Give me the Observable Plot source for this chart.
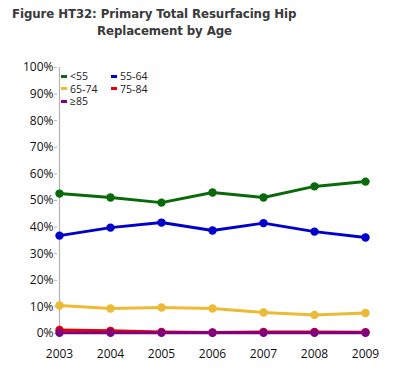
<!DOCTYPE html>
<html><head><meta charset="utf-8">
<script src="https://cdn.jsdelivr.net/npm/d3@7"></script>
<script src="https://cdn.jsdelivr.net/npm/@observablehq/plot@0.6"></script>
<style>
body{margin:0;background:#fff;font-family:"Open Sans",sans-serif;}
#wrap{position:relative;width:414px;height:374px;}
.t{position:absolute;font-family:"DejaVu Sans",sans-serif;font-weight:bold;font-size:11.8px;color:#3a3a3a;line-height:17px;white-space:nowrap;letter-spacing:-0.1px}
#chart{position:absolute;left:0;top:40px;}
#legend{position:absolute;left:61px;top:71px;font-size:10.5px;color:#222;font-family:"Open Sans",sans-serif;}
.li{position:absolute;white-space:nowrap;line-height:11px;height:11px}
.sw{display:inline-block;width:6px;height:3px;vertical-align:middle;margin-right:3px;position:relative;top:-1px}
</style></head>
<body><div id="wrap">
<div class="t" style="left:12px;top:6px">Figure HT32: Primary Total Resurfacing Hip</div>
<div class="t" style="left:97px;top:23px">Replacement by Age</div>
<div id="chart"></div>
<div id="legend"></div>
</div>
<script>
const years = [2003, 2004, 2005, 2006, 2007, 2008, 2009];
const ageGroups = ["<55", "55-64", "65-74", "75-84", "≥85"];
const colors = ["#0a6a0a", "#0000cc", "#ebbb35", "#e60000", "#800080"];
const s_lt55 = [52.6, 51.1, 49.2, 53.0, 51.1, 55.3, 57.1];
const s_55_64 = [36.8, 39.8, 41.7, 38.7, 41.5, 38.3, 36.1];
const s_65_74 = [10.5, 9.4, 9.8, 9.4, 7.9, 7.0, 7.7];
const s_75_84 = [1.3, 1.0, 0.6, 0.4, 0.6, 0.6, 0.5];
const s_ge85 = [0.3, 0.3, 0.3, 0.3, 0.3, 0.3, 0.3];
const yTicks = [0,10,20,30,40,50,60,70,80,90,100];

const seriesVals = [s_lt55, s_55_64, s_65_74, s_75_84, s_ge85];
const data = [];
ageGroups.forEach((g, i) => years.forEach((y, j) => data.push({group: g, year: y, value: seriesVals[i][j]})));

const chart = Plot.plot({
  width: 414, height: 334,
  marginLeft: 57, marginRight: 48, marginTop: 27, marginBottom: 41,
  style: {fontFamily: "'Open Sans', sans-serif", fontSize: "12px", color: "#111"},
  x: {type: "point", domain: years, padding: 0, axis: null},
  y: {domain: [0, 100], axis: null},
  color: {domain: ageGroups, range: colors},
  marks: [
    Plot.ruleX([years[0]], {y1: 0, y2: 100, stroke: "#b3b3b3", strokeWidth: 1.2}),
    Plot.axisY({ticks: yTicks, tickFormat: d => d + "%", tickSize: 3, tickPadding: 1, stroke: "#b3b3b3", fontSize: 12, label: null}),
    Plot.axisX({tickSize: 0, tickPadding: 16, fontSize: 12, tickFormat: d => String(d), label: null}),
    Plot.line(data, {x: "year", y: "value", z: "group", stroke: "group", strokeWidth: 3}),
    Plot.dot(data, {x: "year", y: "value", fill: "group", r: 4.2})
  ]
});
document.getElementById("chart").appendChild(chart);

const leg = document.getElementById("legend");
const pos = [[0,0],[50,0],[0,12.5],[50,12.5],[0,25]];
ageGroups.forEach((g, i) => {
  const d = document.createElement("div");
  d.className = "li";
  d.style.left = pos[i][0] + "px"; d.style.top = pos[i][1] + "px";
  d.innerHTML = `<span class="sw" style="background:${colors[i]}"></span>`;
  d.appendChild(document.createTextNode(g));
  leg.appendChild(d);
});
</script>
</body></html>
